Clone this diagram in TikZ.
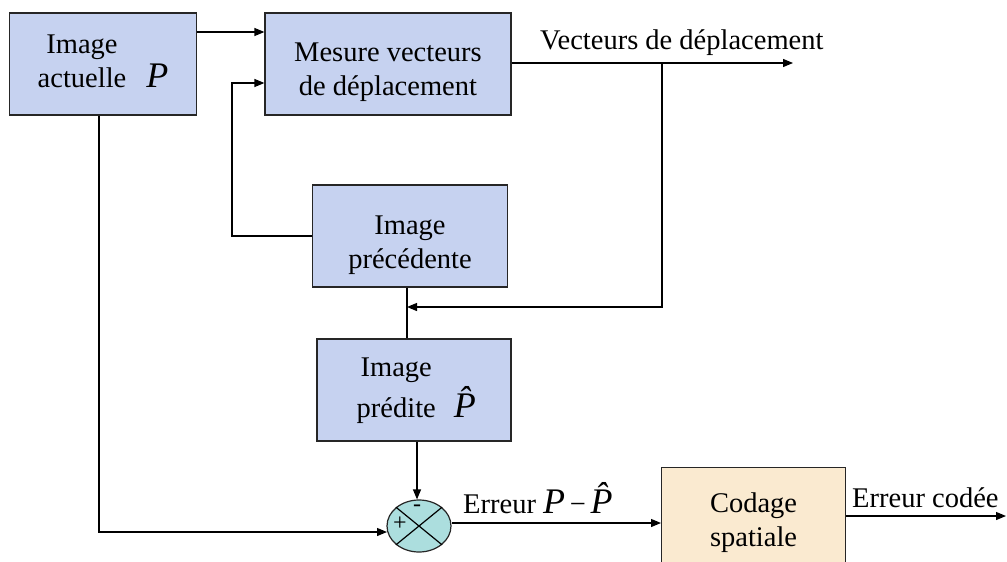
\documentclass[tikz,border=0pt]{standalone}
\usepackage{fontspec}
\setmainfont{Liberation Serif}
\usetikzlibrary{arrows.meta,shapes.geometric}
\definecolor{boxblue}{RGB}{198,210,240}
\definecolor{boxbeige}{RGB}{250,234,208}
\definecolor{sumfill}{RGB}{172,222,222}
\tikzset{
  blk/.style={draw=black!85, line width=1.2pt, fill=boxblue, inner sep=0pt, align=center, font=\fontsize{28.5}{34}\selectfont},
  lbl/.style={inner sep=0pt, font=\fontsize{28.5}{34}\selectfont},
  sgn/.style={inner sep=0pt, font=\fontsize{24}{24}\selectfont},
  wire/.style={line width=1.2pt, black},
  arr/.style={wire, -{Triangle[length=10pt,width=8pt]}},
}
\newcommand{\Pv}{{\fontsize{36}{36}\selectfont\textit{P}}}
\newcommand{\Ph}{{\fontsize{36}{36}\selectfont\textit{\^{P}}}}
\newcommand{\lowtext}[2]{\raisebox{-#1}[\height][\depth]{\begin{tabular}{@{}c@{}}#2\end{tabular}}}
\begin{document}
\begin{tikzpicture}[x=1pt,y=-1pt]
\useasboundingbox (0,0) rectangle (1007,562);
% boxes
\node[blk, minimum width=187, minimum height=102] (act) at (103,64)
  {\begin{tabular}{@{}c@{\hspace{20pt}}c@{}}Image & \\[0pt] actuelle & \Pv\end{tabular}};
\node[blk, minimum width=246, minimum height=102] (mes) at (388,64) {\lowtext{8pt}{Mesure vecteurs\\de déplacement}};
\node[blk, minimum width=195, minimum height=102] (pre) at (410,236) {\lowtext{9pt}{Image\\précédente}};
\node[blk, minimum width=194, minimum height=102] (pred) at (414,390)
  {\begin{tabular}{@{\hspace{18pt}}c@{\hspace{18pt}}c@{}}Image & \\[0pt] prédite & \Ph\end{tabular}};
\node[blk, fill=boxbeige, minimum width=184, minimum height=110, anchor=north west] (cod) at (661,467) {Codage\\spatiale};
% summing junction
\node[draw=black!85, line width=1.2pt, fill=sumfill, ellipse, minimum width=64, minimum height=52, inner sep=0pt] (sum) at (419,526) {};
\draw[wire] (sum.north west) -- (sum.south east);
\draw[wire] (sum.north east) -- (sum.south west);
\node[sgn] (plus) at (400,524) {+};
\node[sgn] (minus) at (417,508) {-};
% connectors
\coordinate (split) at (662,63);
\coordinate (vend) at (793,63);
\draw[arr] (act.east |- 0,32) -- (mes.west |- 0,32);
\draw[arr] (pre.west) -| (232,83) -- (mes.west |- 0,83);
\draw[wire] (mes.east |- split) -- (split);
\draw[arr] (split) -- (vend);
\node[lbl, anchor=base west] (vlab) at (540,49) {Vecteurs de déplacement};
\draw[arr] (split) |- (407,307);
\draw[wire] (pre.south -| 407,0) -- (pred.north -| 407,0);
\draw[arr] (pred.south -| 417,0) -- (sum.north -| 417,0);
\draw[arr] (act.south -| 99,0) |- (387,532);
\draw[arr] (sum.east |- 0,523) -- (cod.west |- 0,523);
\node[lbl, anchor=base west] (elab) at (463,513) {Erreur \Pv\,−\,\Ph};
\coordinate (cend) at (1006,516);
\draw[arr] (cod.east |- cend) -- (cend);
\node[lbl, anchor=base west] (clab) at (852,507) {Erreur codée};
\end{tikzpicture}
\end{document}
